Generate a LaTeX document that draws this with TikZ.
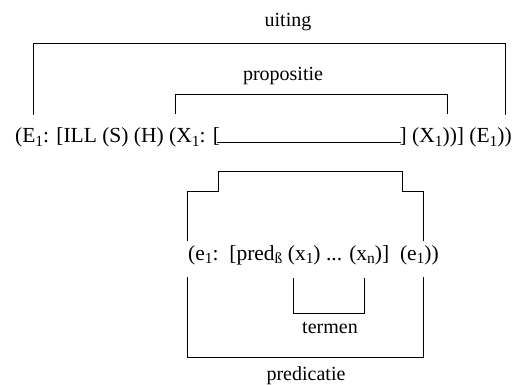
\documentclass[tikz,border=0pt]{standalone}
\usepackage{fontspec}
\setmainfont{Liberation Serif}
\usetikzlibrary{calc}
\newcommand{\sbs}[1]{\raisebox{-0.18em}{\scalebox{0.72}{#1}}}
\tikzset{
  lbl/.style={inner sep=0pt, font=\fontsize{20}{24}\selectfont},
  big/.style={inner sep=0pt, font=\fontsize{21.5}{25}\selectfont},
  brk/.style={line width=0.9pt, line join=miter},
}
\begin{document}
\begin{tikzpicture}[x=1pt,y=-1pt]
\useasboundingbox[fill=white] (0,0) rectangle (517,385);
% labels
\node[lbl, anchor=base] (uiting) at (288,27) {uiting};
\node[lbl, anchor=base] (prop) at (283,81) {propositie};
% main line
\node[big, anchor=base west] (mainL) at (15,143) {(E\sbs{1}: [ILL (S) (H) (X\sbs{1}: [};
\node[big, anchor=base east] (mainR) at (512,143) {] (X\sbs{1}))] (E\sbs{1}))};
\coordinate (la) at ($(mainL.base east)+(-3,-0.4)$);
\coordinate (lb) at ($(mainR.base west)+(1.5,-0.4)$);
\draw[brk] (la) -- (lb);
% outer bracket
\coordinate (u1) at (33,115);
\coordinate (u2) at (505,115);
\draw[brk] (u1) -- (33,43) -- (505,43) -- (u2);
% propositie bracket
\coordinate (p1) at (175,114);
\coordinate (p2) at (447,114);
\draw[brk] (p1) -- (175,94) -- (447,94) -- (p2);
% stepped bracket
\coordinate (s1) at (187,241);
\coordinate (s2) at (423,241);
\draw[brk] (s1) -- (187,191) -- (218,191) -- (218,171) -- (402,171) -- (402,191) -- (423,191) -- (s2);
% lower line
\node[big, anchor=base east] (low) at (439,260) {(e\sbs{1}:\ \ [pred\sbs{ß} (x\sbs{1}) ... (x\sbs{n})]\ \ (e\sbs{1}))};
% termen bracket
\coordinate (t1) at (293,278);
\coordinate (t2) at (364,278);
\draw[brk] (t1) -- (293,313) -- (364,313) -- (t2);
\node[lbl, anchor=base] (termen) at (330,333) {termen};
% predicatie bracket
\coordinate (q1) at (187,277);
\coordinate (q2) at (423,277);
\draw[brk] (q1) -- (187,357) -- (423,357) -- (q2);
\node[lbl, anchor=base] (pred) at (306,380) {predicatie};
\end{tikzpicture}
\end{document}
